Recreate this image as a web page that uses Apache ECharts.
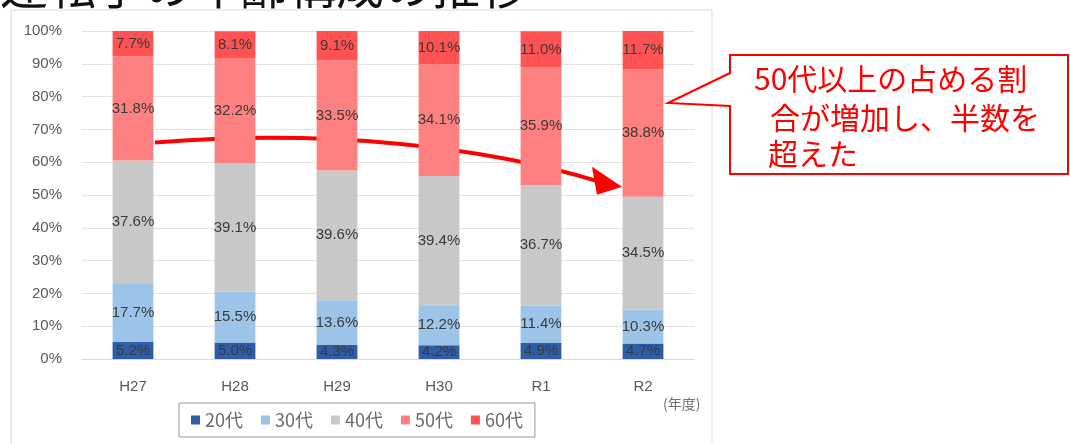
<!DOCTYPE html>
<html>
<head>
<meta charset="utf-8">
<script src="https://cdn.jsdelivr.net/npm/echarts@6/dist/echarts.min.js"></script>
<style>
  html, body { margin: 0; padding: 0; background: #fff; }
  #main { width: 1070px; height: 444px; }
</style>
</head>
<body>
<div id="main"></div>
<script>
// 年度
var categories = ['H27', 'H28', 'H29', 'H30', 'R1', 'R2'];
var seriesNames = ['20代', '30代', '40代', '50代', '60代'];
// 年齢構成（%）
var age20 = [5.2, 5.0, 4.3, 4.2, 4.9, 4.7];
var age30 = [17.7, 15.5, 13.6, 12.2, 11.4, 10.3];
var age40 = [37.6, 39.1, 39.6, 39.4, 36.7, 34.5];
var age50 = [31.8, 32.2, 33.5, 34.1, 35.9, 38.8];
var age60 = [7.7, 8.1, 9.1, 10.1, 11.0, 11.7];
var yTicks = [0, 10, 20, 30, 40, 50, 60, 70, 80, 90, 100];

var colors = ['#2f5ea8', '#9cc3e8', '#c8c8c8', '#ff8080', '#ff5252'];
var jpFont = '"Noto Sans CJK JP", "Noto Sans", sans-serif';
var latinFont = '"Liberation Sans", sans-serif';

var chart = echarts.init(document.getElementById('main'));

function makeSeries(name, data, color) {
  return {
    name: name,
    type: 'bar',
    stack: 'total',
    barWidth: '40%',
    data: data,
    itemStyle: { color: color },
    label: {
      show: true,
      position: 'inside',
      color: '#3a3a3a',
      fontSize: 15,
      fontFamily: latinFont,
      formatter: function (p) { return p.value.toFixed(1) + '%'; }
    }
  };
}

var option = {
  animation: false,
  color: colors,
  grid: { left: 82, right: 376, top: 31, bottom: 85 },
  legend: {
    data: seriesNames,
    left: 179,
    top: 403,
    itemWidth: 9,
    itemHeight: 9,
    itemGap: 18,
    padding: [8, 12],
    borderColor: '#9a9a9a',
    borderWidth: 1,
    icon: 'rect',
    textStyle: { color: '#6a6a6a', fontSize: 18, fontFamily: jpFont }
  },
  xAxis: {
    type: 'category',
    data: categories,
    axisLine: { lineStyle: { color: '#d9d9d9' } },
    axisTick: { show: false },
    axisLabel: { color: '#595959', fontSize: 15, margin: 20, fontFamily: latinFont }
  },
  yAxis: {
    type: 'value',
    min: yTicks[0],
    max: yTicks[yTicks.length - 1],
    interval: 10,
    axisLine: { show: false },
    axisTick: { show: false },
    splitLine: { lineStyle: { color: '#e3e3e3' } },
    axisLabel: { color: '#595959', fontSize: 15, margin: 20, formatter: '{value}%', fontFamily: latinFont }
  },
  series: [
    makeSeries(seriesNames[0], age20, colors[0]),
    makeSeries(seriesNames[1], age30, colors[1]),
    makeSeries(seriesNames[2], age40, colors[2]),
    makeSeries(seriesNames[3], age50, colors[3]),
    makeSeries(seriesNames[4], age60, colors[4])
  ]
};
chart.setOption(option);

// 矢印と吹き出し
var start = chart.convertToPixel({ seriesIndex: 0 }, [categories[0], 66]);
var end = chart.convertToPixel({ seriesIndex: 0 }, [categories[5], 52.5]);
var sx = start[0] + 22, sy = start[1];
var ex = end[0] - 21, ey = end[1];
var bx = ex - 22, by = ey - 5;

chart.setOption({
  graphic: [
    { type: 'rect', shape: { x: 11, y: 10, width: 701, height: 440 },
      style: { fill: 'none', stroke: '#d9d9d9', lineWidth: 1 }, z: -1 },
    { type: 'text', left: 0, top: -38,
      style: { text: '運転手の年齢構成の推移', font: '48px ' + jpFont, fill: '#111' } },
    { type: 'text', left: 663, top: 397,
      style: { text: '(年度)', font: '14px ' + jpFont, fill: '#707070' } },
    { type: 'bezierCurve',
      shape: { x1: sx, y1: sy, cpx1: sx + 170, cpy1: sy - 14, cpx2: sx + 330, cpy2: sy + 4, x2: bx, y2: by },
      style: { stroke: '#ff0000', lineWidth: 4, fill: 'none' } },
    { type: 'polygon',
      shape: { points: [[ex, ey], [bx - 8, by - 15], [bx - 3, by + 13]] },
      style: { fill: '#ff0000' } },
    { type: 'polygon',
      shape: { points: [[730, 55], [1068, 55], [1068, 174], [730, 174], [730, 106], [668, 103], [730, 73]] },
      style: { fill: '#fff', stroke: '#ff0000', lineWidth: 2 } },
    { type: 'text', left: 754, top: 64,
      style: { text: '50代以上の占める割', font: '30px ' + jpFont, fill: '#ff0000' } },
    { type: 'text', left: 770, top: 103,
      style: { text: '合が増加し、半数を', font: '30px ' + jpFont, fill: '#ff0000' } },
    { type: 'text', left: 768, top: 139,
      style: { text: '超えた', font: '30px ' + jpFont, fill: '#ff0000' } }
  ]
});
</script>
</body>
</html>
